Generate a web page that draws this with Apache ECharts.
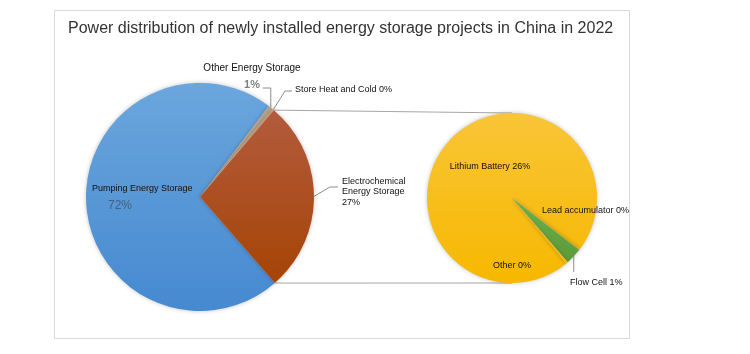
<!DOCTYPE html>
<html>
<head>
<meta charset="utf-8">
<title>Energy storage pie of pie</title>
<script src="https://cdn.jsdelivr.net/npm/echarts@6/dist/echarts.min.js"></script>
<style>
  html, body { margin: 0; padding: 0; background: #fff; }
  #chart { width: 750px; height: 354px; }
</style>
</head>
<body>
<div id="chart"></div>
<script>
// share of new installed power, % of total
const mainNames = ["Pumping Energy Storage", "Other Energy Storage", "Store Heat and Cold", "Electrochemical Energy Storage"];
const mainValues = [71.7, 0.7, 0.2, 27.4];
// split of the electrochemical part, still % of total
const subNames = ["Lithium Battery", "Lead accumulator", "Flow Cell", "Other"];
const subValues = [26.4, 0.05, 0.85, 0.1];
const titleText = "Power distribution of newly installed energy storage projects in China in 2022";

const FONT = "Liberation Sans, Arial, sans-serif";
const pct = (v) => Math.round(v) + "%";
const grad = (a, b) => ({
  type: "linear", x: 0, y: 0, x2: 0, y2: 1,
  colorStops: [{ offset: 0, color: a }, { offset: 1, color: b }],
});

const mainColors = [grad("#6ba6dd", "#4689d0"), "#b8a08c", "#d9a878", grad("#b35b3d", "#a54406")];
const subColors = [grad("#f9c537", "#f6b800"), "#f4b400", grad("#6fb04c", "#5c9a3a"), "#f6b800"];

const lineStyle = { color: "#8c8c8c", width: 1 };

const mainData = mainNames.map((n, i) => ({
  name: n,
  value: mainValues[i],
  itemStyle: { color: mainColors[i] },
}));
mainData[0].label = {
  position: "inside",
  formatter: (p) => "{a|" + p.name + "}\n{b|" + pct(p.value) + "}",
  rich: {
    a: { fontSize: 9, lineHeight: 14, color: "#111", fontFamily: FONT },
    b: { fontSize: 12, lineHeight: 20, color: "#43607e", fontFamily: FONT, padding: [0, 0, 0, 16] },
  },
};
mainData[0].labelLine = { show: false };
mainData[1].label = {
  formatter: (p) => "{n|" + p.name + "}\n{p|" + pct(p.value) + "}",
  rich: {
    n: { fontSize: 10, lineHeight: 16, color: "#111", fontFamily: FONT },
    p: { fontSize: 11, lineHeight: 18, color: "#7f7f7f", fontWeight: "bold", fontFamily: FONT },
  },
};
mainData[2].label = { formatter: (p) => p.name + " " + pct(p.value) };
mainData[3].label = { formatter: (p) => "Electrochemical\nEnergy Storage\n" + pct(p.value), lineHeight: 10.5 };

const subData = subNames.map((n, i) => ({
  name: n,
  value: subValues[i],
  itemStyle: { color: subColors[i] },
  label: { position: i === 2 ? "outside" : "inside", formatter: (p) => p.name + " " + pct(p.value) },
  labelLine: { show: i === 2 },
}));

// label spots as in the source picture
const mainLabelAt = [[92, 199, "left"], [252, 77, "center"], [295, 90, "left"], [342, 192, "left"]];
const subLabelAt = [[490, 167, "center"], [542, 211, "left"], [570, 283, "left"], [512, 266, "center"]];

const chart = echarts.init(document.getElementById("chart"));

const option = {
  animation: false,
  title: {
    text: titleText,
    left: 68,
    top: 21,
    padding: 0,
    textStyle: { fontFamily: FONT, fontSize: 16, fontWeight: "normal", color: "#333" },
  },
  series: [
    {
      type: "pie",
      center: [200, 197],
      radius: 114,
      startAngle: -49,
      avoidLabelOverlap: false,
      emphasis: { disabled: true },
      itemStyle: { shadowBlur: 4, shadowColor: "rgba(0,0,0,0.25)" },
      label: { show: true, position: "outside", fontSize: 9, color: "#111", fontFamily: FONT },
      labelLine: { show: true, lineStyle: lineStyle },
      labelLayout: (p) => {
        const [x, y, align] = mainLabelAt[p.dataIndex];
        const out = { x: x, y: y, align: align, verticalAlign: "middle" };
        const pt = p.labelLinePoints && p.labelLinePoints[0];
        if (pt) {
          if (p.dataIndex === 1) out.labelLinePoints = [pt, [pt[0], y + 11], [pt[0] - 8, y + 11]];
          if (p.dataIndex === 2) out.labelLinePoints = [pt, [x - 10, y + 1], [x - 3, y + 1]];
          if (p.dataIndex === 3) out.labelLinePoints = [pt, [x - 12, y - 5], [x - 4, y - 5]];
        }
        return out;
      },
      data: mainData,
    },
    {
      type: "pie",
      center: [512, 198],
      radius: 85,
      startAngle: -50.3,
      avoidLabelOverlap: false,
      emphasis: { disabled: true },
      itemStyle: { shadowBlur: 4, shadowColor: "rgba(0,0,0,0.25)" },
      label: { show: true, fontSize: 9, color: "#111", fontFamily: FONT },
      labelLine: { lineStyle: lineStyle },
      labelLayout: (p) => {
        const [x, y, align] = subLabelAt[p.dataIndex];
        const out = { x: x, y: y, align: align, verticalAlign: "middle" };
        const pt = p.labelLinePoints && p.labelLinePoints[0];
        if (pt && p.dataIndex === 2) out.labelLinePoints = [pt, [pt[0], y - 11]];
        return out;
      },
      data: subData,
    },
  ],
};
chart.setOption(option);

// frame and the two connector lines, taken from the pie layout
const model = chart.getModel();
const split = model.getSeriesByIndex(0).getData().getItemLayout(3);
const sub = model.getSeriesByIndex(1).getData().getItemLayout(0);
const edge = (a) => [split.cx + split.r * Math.cos(a), split.cy + split.r * Math.sin(a)];

chart.setOption({
  graphic: [
    {
      type: "rect", z: -10, silent: true,
      shape: { x: 54.5, y: 10.5, width: 575, height: 328 },
      style: { fill: "none", stroke: "#d9d9d9", lineWidth: 1 },
    },
    {
      type: "polyline", z: -5, silent: true,
      shape: { points: [edge(split.startAngle), [sub.cx, sub.cy - sub.r]] },
      style: { stroke: "#a6a6a6", lineWidth: 1, fill: "none" },
    },
    {
      type: "polyline", z: -5, silent: true,
      shape: { points: [edge(split.endAngle), [sub.cx, sub.cy + sub.r]] },
      style: { stroke: "#a6a6a6", lineWidth: 1, fill: "none" },
    },
  ],
});
</script>
</body>
</html>
